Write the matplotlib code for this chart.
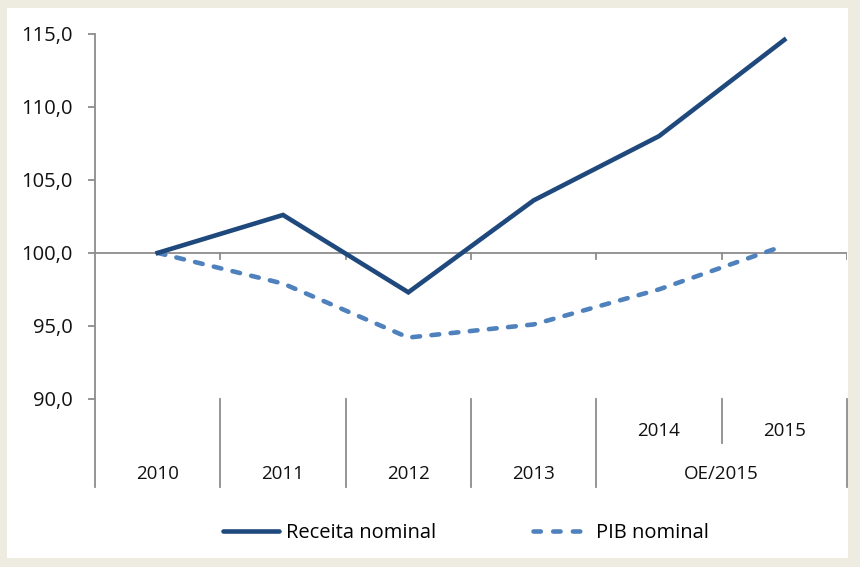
import matplotlib.pyplot as plt
from matplotlib.patches import Rectangle
from matplotlib.lines import Line2D

plt.rcParams['font.family'] = ['Open Sans', 'DejaVu Sans']

years = ['2010', '2011', '2012', '2013', '2014', '2015']
receita = [100.0, 102.6, 97.3, 103.6, 108.0, 114.6]
pib = [100.0, 97.9, 94.2, 95.1, 97.5, 100.5]
# top level groups of the category axis: (label, first index, last index)
groups = [('2010', 0, 0), ('2011', 1, 1), ('2012', 2, 2), ('2013', 3, 3), ('OE/2015', 4, 5)]
sub_labels = {4: '2014', 5: '2015'}
yticks = [90, 95, 100, 105, 110, 115]

dark = '#1f497d'
light = '#4f81bd'
grey = '#8c8c8c'

W, H = 860, 567
fig = plt.figure(figsize=(W / 100, H / 100), dpi=100)
fig.patch.set_facecolor('#eeece1')
fig.patches.append(Rectangle((7 / W, 1 - 558 / H), 841 / W, 550 / H,
                             transform=fig.transFigure, facecolor='white',
                             edgecolor='none', zorder=-5))

ymin, ymax = 83.96, 115.0
ax = fig.add_axes([95 / W, 1 - 487 / H, 752 / W, 453 / H])
ax.set_facecolor('none')
ax.set_xlim(-0.5, len(years) - 0.5)
ax.set_ylim(ymin, ymax)

x = list(range(len(years)))
ax.plot(x, receita, color=dark, lw=3.3, solid_joinstyle='miter', zorder=4)
ax.plot(x, pib, color=light, lw=3.3, dashes=(1.7, 2.5), dash_capstyle='round', zorder=3)

# value axis
for s in ['top', 'right', 'bottom']:
    ax.spines[s].set_visible(False)
ax.spines['left'].set_color(grey)
ax.spines['left'].set_linewidth(1.3)
ax.set_yticks(yticks)
ax.set_yticklabels([f'{v:.1f}'.replace('.', ',') for v in yticks], fontsize=14.5, color='#111111')
ax.tick_params(axis='y', length=5, width=1.3, color=grey, pad=11)
ax.set_xticks([])

# category axis crossing at 100
ax.axhline(100, color=grey, lw=1.3, zorder=2)
tick_len = 6 / 14.58
for b in range(len(years)):
    xb = b + 0.5
    ax.plot([xb, xb], [100, 100 - tick_len], color=grey, lw=1.3, zorder=2)

# multi-level category labels
row1_y = 90 - (431 - 399) / 14.58
row2_y = 90 - (474 - 399) / 14.58
mid_y = 90 - (443 - 399) / 14.58
for lab, i0, i1 in groups:
    ax.text((i0 + i1) / 2, row2_y, lab, ha='center', va='center', fontsize=13.5, color='#111111')
    ax.plot([i1 + 0.5, i1 + 0.5], [ymin, 90], color=grey, lw=1.3, clip_on=False)
for i, lab in sub_labels.items():
    ax.text(i, row1_y, lab, ha='center', va='center', fontsize=13.5, color='#111111')
for i in list(sub_labels)[:-1]:
    ax.plot([i + 0.5, i + 0.5], [mid_y, 90], color=grey, lw=1.3)

# legend
handles = [Line2D([], [], color=dark, lw=3.3, solid_capstyle='round'),
           Line2D([], [], color=light, lw=3.3, dashes=(1.6, 2.7), dash_capstyle='round')]
fig.legend(handles, ['Receita nominal', 'PIB nominal'], loc='center',
           bbox_to_anchor=(466 / W, 1 - 533 / H), ncol=2, frameon=False,
           fontsize=14.5, handlelength=2.8, handletextpad=0.35, columnspacing=4.8)

fig.savefig('out.png', dpi=100, facecolor=fig.get_facecolor())
